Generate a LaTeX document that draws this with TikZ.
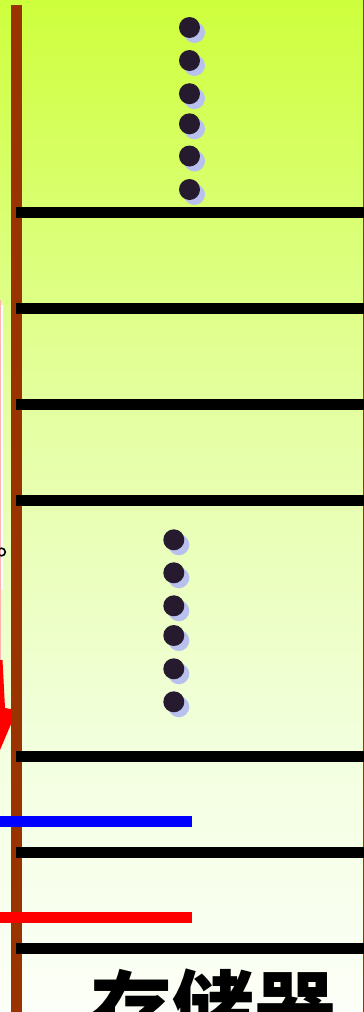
\documentclass[tikz,border=0pt]{standalone}
\usepackage{fontspec}
\newfontfamily\cjk{Noto Sans CJK SC}
\definecolor{bar}{RGB}{153,51,0}
\definecolor{dotc}{RGB}{38,26,46}
\definecolor{shad}{RGB}{184,192,238}
\definecolor{bgtop}{RGB}{206,255,60}
\definecolor{bgmid}{RGB}{228,255,160}
\definecolor{bglow}{RGB}{243,255,224}
\definecolor{bgbot}{RGB}{252,255,248}
\pgfdeclareverticalshading{bgshade}{100bp}{color(0bp)=(bgbot); color(25bp)=(bgbot); color(37.5bp)=(bglow); color(55bp)=(bgmid); color(75bp)=(bgtop); color(100bp)=(bgtop)}
\tikzset{
  shelf/.style={line width=11pt, black},
  pointer/.style={line width=11pt},
  ball/.style={circle, fill=dotc, minimum size=21pt, inner sep=0pt},
  ballshadow/.style={circle, fill=shad, minimum size=21pt, inner sep=0pt},
}
\begin{document}
\begin{tikzpicture}[x=1pt,y=-1pt]
\useasboundingbox (0,0) rectangle (364,1012);
\begin{scope}
\clip (0,0) rectangle (364,1012);
% background
\shade[shading=bgshade] (0,0) rectangle (364,1012);
% fragments at left edge
\fill[white] (0,305) rectangle (3,590);
\draw[red!30, line width=0.8pt] (0.5,300) -- (0.5,660);
\draw[black, line width=1.6pt] (1.5,552) circle (3.8);
\fill[red] (0,660) -- (2.5,660) -- (5,708) -- (17,710) -- (0,750) -- cycle;
% right thin edge
\draw[bar, line width=1.2pt] (363.4,0) -- (363.4,1012);
% brown bar
\fill[bar] (10.7,5) rectangle (22.3,1012);
% shelves
\foreach \yy/\nm in {212/s1,308/s2,404/s3,500/s4,756/s5,852/s6,948/s7}{
  \coordinate (\nm a) at (16,\yy);
  \coordinate (\nm b) at (364,\yy);
  \draw[shelf] (\nm a) -- (\nm b);
}
% blue and red pointers
\coordinate (ba) at (0,821);
\coordinate (bb) at (192,821);
\coordinate (ra) at (0,917);
\coordinate (rb) at (192,917);
\draw[pointer, blue] (ba) -- (bb);
\draw[pointer, red] (ra) -- (rb);
% dots
\foreach \yy [count=\i] in {27.5,60.5,93.7,123.8,156,189.5}{
  \node[ballshadow] (us\i) at (194.5,\yy+5) {};
  \node[ball] (u\i) at (189.5,\yy) {};
}
\foreach \yy [count=\i] in {539.8,572.8,605.8,635.5,668.8,701.8}{
  \node[ballshadow] (ls\i) at (178.8,\yy+5) {};
  \node[ball] (l\i) at (173.8,\yy) {};
}
% label
\node[anchor=base, inner sep=0pt, font=\cjk\bfseries\fontsize{82}{82}\selectfont] (lbl) at (213,1039) {存储器};
\end{scope}
\end{tikzpicture}
\end{document}
